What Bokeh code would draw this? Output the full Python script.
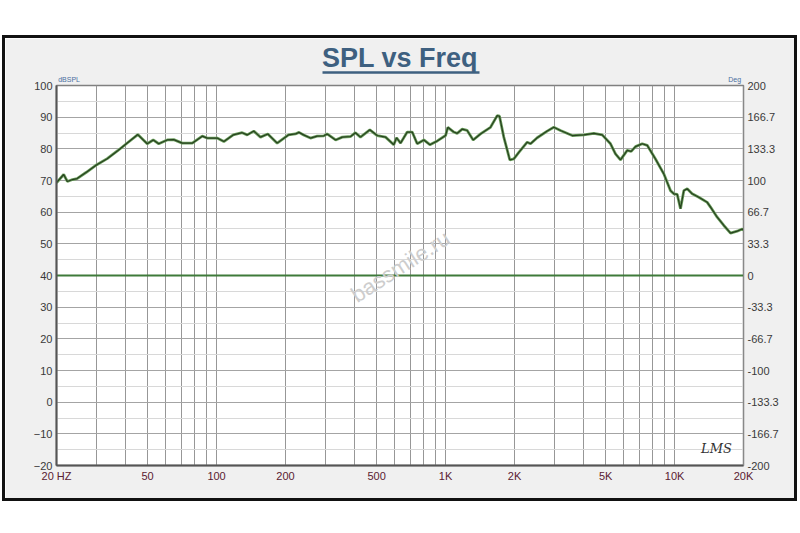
from bokeh.plotting import figure
from bokeh.models import (Range1d, LinearAxis, LogAxis, FixedTicker, Label, Spacer, Title)
from bokeh.layouts import column, row
from bokeh.embed import file_html
from bokeh.resources import INLINE

# ---------------- data ----------------
freq_hz = [20, 21.5, 22.3, 23.5, 24.6, 27, 30, 33.3, 37, 41, 45.3, 49.8, 52.9, 55.9,
           60.9, 65, 70.8, 78.3, 86.6, 91, 100.6, 107.6, 118.2, 129.4, 136.1, 145.4,
           155.5, 167.4, 184, 206, 221, 229, 240, 257, 275, 294, 304, 331, 354, 385,
           404, 425, 467, 503, 547, 594, 611, 636, 680, 715, 752, 804, 854, 920, 1000,
           1023, 1086, 1124, 1182, 1243, 1320, 1421, 1571, 1681, 1720, 1796, 1908,
           1986, 2089, 2273, 2350, 2513, 2779, 2969, 3176, 3573, 4015, 4440, 4831,
           5252, 5521, 5806, 6212, 6466, 6752, 7222, 7596, 8254, 8974, 9600, 9925,
           10270, 10615, 10975, 11355, 11940, 12760, 13890, 14360, 15350, 16410,
           17550, 18770, 19750, 20000]
spl_db = [69.3, 71.9, 69.7, 70.3, 70.6, 72.6, 75.0, 76.9, 79.4, 82.0, 84.5, 81.6, 82.8,
          81.6, 82.8, 82.9, 81.8, 81.8, 84.0, 83.4, 83.4, 82.3, 84.4, 85.1, 84.4, 85.6,
          83.7, 84.7, 81.8, 84.4, 84.7, 85.2, 84.4, 83.4, 84.0, 84.1, 84.7, 82.8, 83.7,
          83.9, 85.1, 83.7, 86.0, 84.2, 83.7, 81.3, 83.5, 81.8, 85.3, 85.3, 81.6, 82.8,
          81.3, 82.5, 84.2, 86.8, 85.3, 84.9, 86.2, 85.8, 82.8, 84.7, 86.8, 90.5, 90.3,
          83.7, 76.5, 76.8, 78.9, 82.1, 81.6, 83.5, 85.6, 86.8, 85.8, 84.2, 84.4, 84.9,
          84.4, 81.6, 78.4, 76.5, 79.5, 79.2, 80.7, 81.6, 81.1, 76.8, 72.1, 66.8, 65.8,
          65.6, 61.1, 66.8, 67.4, 65.8, 64.7, 63.1, 61.6, 58.4, 55.8, 53.4, 54.0, 54.7,
          54.3]

phase_freq = [20, 20000]
phase_deg = [0, 0]

freq_ticks = [20, 50, 100, 200, 500, 1000, 2000, 5000, 10000, 20000]
freq_tick_labels = ["20 HZ", "50", "100", "200", "500", "1K", "2K", "5K", "10K", "20K"]
db_ticks = [-20, -10, 0, 10, 20, 30, 40, 50, 60, 70, 80, 90, 100]
db_minor = [-15, -5, 5, 15, 25, 35, 45, 55, 65, 75, 85, 95]
deg_ticks = [-200, -166.7, -133.3, -100, -66.7, -33.3, 0, 33.3, 66.7, 100, 133.3, 166.7, 200]
deg_tick_labels = ["-200", "-166.7", "-133.3", "-100", "-66.7", "-33.3", "0", "33.3",
                   "66.7", "100", "133.3", "166.7", "200"]
unit_anchor = [22.7, 18300]          # where the small unit captions sit above the frame
unit_labels = ["dBSPL", "Deg"]
title_text = "SPL vs Freq"
title_underline_span = (290, 1406)
grid_freqs = [m * d for d in (10, 100, 1000) for m in range(1, 10)] + [10000, 20000]
grid_freqs = [g for g in grid_freqs if g >= 20]

# ---------------- figure ----------------
p = figure(width=789, height=460, x_axis_type="log",
           x_range=Range1d(20, 20000), y_range=Range1d(-20, 100),
           output_backend="svg", toolbar_location=None, title=None,
           min_border_left=51, min_border_right=51, min_border_top=47,
           min_border_bottom=33,
           background_fill_color="white", border_fill_color="#f0f0f0")
p.outline_line_color = "#808080"
p.outline_line_width = 1.5

p.extra_y_ranges = {"deg": Range1d(-200, 200)}

# x axis
p.xaxis.ticker = FixedTicker(ticks=freq_ticks)
p.xaxis.major_label_overrides = dict(zip(freq_ticks, freq_tick_labels))
p.xgrid.ticker = FixedTicker(ticks=grid_freqs)
p.xgrid.grid_line_color = "#979797"
p.xgrid.grid_line_width = 1

# left axis
p.yaxis.ticker = FixedTicker(ticks=db_ticks, minor_ticks=db_minor)
p.ygrid.grid_line_color = "#a4a4a4"
p.ygrid.minor_grid_line_color = "#d8d8d8"

# right axis
ax_r = LinearAxis(y_range_name="deg", ticker=FixedTicker(ticks=deg_ticks),
                  major_label_overrides=dict(zip(deg_ticks, deg_tick_labels)))
p.add_layout(ax_r, "right")

# unit captions above the frame
ax_u = LogAxis(ticker=FixedTicker(ticks=unit_anchor),
               major_label_overrides=dict(zip(unit_anchor, unit_labels)))
# underline of the title
ax_t = LogAxis(ticker=FixedTicker(ticks=[]), bounds=title_underline_span)

for ax in (p.xaxis[0], p.yaxis[0], ax_r, ax_u, ax_t):
    ax.axis_line_color = "#555555"
    ax.axis_line_width = 2
    ax.major_tick_line_color = None
    ax.minor_tick_line_color = None
    ax.major_tick_out = 0
    ax.major_tick_in = 0
    ax.minor_tick_out = 0
    ax.minor_tick_in = 0
    ax.major_label_text_font = "Liberation Sans"
    ax.major_label_text_font_size = "11px"
    ax.major_label_text_color = "#3a3a3a"
    ax.major_label_standoff = 4
ax_r.axis_line_color = "#888888"
ax_r.axis_line_width = 1
p.xaxis.major_label_text_color = "#5a2030"

ax_u.axis_line_color = None
ax_u.major_label_text_font_size = "7px"
ax_u.major_label_text_color = "#4a6fa0"
ax_u.major_label_standoff = 3
ax_t.axis_line_color = "#3e6080"
ax_t.axis_line_width = 2.5
ax_t.major_label_standoff = 0
ax_t.major_label_text_font_size = "1px"

p.add_layout(ax_u, "above")
p.add_layout(ax_t, "above")
p.add_layout(Title(text=title_text, align="center", text_font="Liberation Sans",
                   text_font_style="bold", text_font_size="27px",
                   text_color="#3e6080", standoff=0), "above")

# ---------------- data lines ----------------
p.line(phase_freq, phase_deg, y_range_name="deg", line_color="#3f7a3a", line_width=2)
p.line(freq_hz, spl_db, line_color="#6a9e5c", line_width=2.8)
p.line(freq_hz, spl_db, line_color="#27401f", line_width=1.2)

# ---------------- texts ----------------
p.add_layout(Label(x=344, y=199, x_units="screen", y_units="screen",
                   text="bassmile.ru", angle=0.57, text_align="center",
                   text_baseline="middle", text_font="Liberation Sans",
                   text_font_size="22px", text_color="#cdcdcd"))
p.add_layout(Label(x=660, y=17, x_units="screen", y_units="screen", text="LMS",
                   text_align="center", text_baseline="middle",
                   text_font="DejaVu Serif", text_font_style="italic",
                   text_font_size="13px", text_color="#333333"))

# black outer frame made of dark spacers
BLK = {"background-color": "#111111"}
framed = column(
    Spacer(width=795, height=3, styles=BLK),
    row(Spacer(width=3, height=460, styles=BLK), p,
        Spacer(width=3, height=460, styles=BLK)),
    Spacer(width=795, height=3, styles=BLK),
)
layout = column(Spacer(width=795, height=35), row(Spacer(width=2, height=466), framed))
open("out.html", "w").write(file_html(layout, INLINE))
